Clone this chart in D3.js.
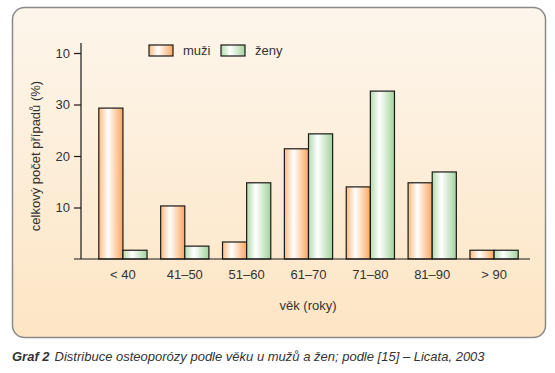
<html>
<head>
<style>
body { margin: 0; background: #ffffff; font-family: "Liberation Sans", Arial, sans-serif; }
svg { display: block; }
text { fill: #333333; }
</style>
</head>
<body>
<script src="https://cdnjs.cloudflare.com/ajax/libs/d3/7.8.5/d3.min.js"></script>
<script>
var ageGroups = ['< 40', '41–50', '51–60', '61–70', '71–80', '81–90', '> 90']
var muzi = [29.3, 10.3, 3.3, 21.4, 14.0, 14.8, 1.7]
var zeny = [1.7, 2.5, 14.8, 24.3, 32.6, 16.9, 1.7]
var yTicks = [10, 20, 30, 40]
var yTickLabels = ['10', '20', '30', '10']
var seriesNames = ['muži', 'ženy']

var width = 555, height = 373

var svg = d3.select("body").append("svg")
  .attr("width", width)
  .attr("height", height)

var defs = svg.append("defs")

var bg = defs.append("linearGradient").attr("id", "bg")
  .attr("x1", 0).attr("y1", 0).attr("x2", 0).attr("y2", 1)
bg.append("stop").attr("offset", "0%").attr("stop-color", "#fdf6ec")
bg.append("stop").attr("offset", "100%").attr("stop-color", "#fde5c4")

function barGradient(id, c1, c2) {
  var g = defs.append("linearGradient").attr("id", id)
    .attr("x1", 0).attr("y1", 0).attr("x2", 1).attr("y2", 0)
  g.append("stop").attr("offset", "0%").attr("stop-color", c1)
  g.append("stop").attr("offset", "38%").attr("stop-color", "#ffffff")
  g.append("stop").attr("offset", "100%").attr("stop-color", c2)
}
barGradient("gm", "#fbbb80", "#fba65e")
barGradient("gz", "#b3dbad", "#a2d29c")
var fills = ["url(#gm)", "url(#gz)"]

// panel
svg.append("rect")
  .attr("x", 12.5).attr("y", 7.5)
  .attr("width", 533).attr("height", 330)
  .attr("rx", 12)
  .attr("fill", "url(#bg)")
  .attr("stroke", "#8a8a8a")
  .attr("stroke-width", 1.5)

var x = d3.scaleBand().domain(ageGroups).range([92, 525]).paddingInner(0.22).paddingOuter(0.11)
var xs = d3.scaleBand().domain([0, 1]).range([0, x.bandwidth()])
var y = d3.scaleLinear().domain([0, 40]).range([259, 53])

// bars
var groups = svg.selectAll("g.grp")
  .data(ageGroups)
  .enter().append("g")
  .attr("class", "grp")
  .attr("transform", function(d) { return "translate(" + x(d) + ",0)" })

groups.selectAll("rect")
  .data(function(d, i) { return [muzi[i], zeny[i]] })
  .enter().append("rect")
  .attr("x", function(d, j) { return xs(j) })
  .attr("y", function(d) { return y(d) })
  .attr("width", xs.bandwidth())
  .attr("height", function(d) { return y(0) - y(d) })
  .attr("fill", function(d, j) { return fills[j] })
  .attr("stroke", "#1a1a1a")
  .attr("stroke-width", 1.2)

// y axis
var yAxis = d3.axisLeft(y).tickValues(yTicks)
  .tickSize(7).tickPadding(4)
  .tickFormat(function(d, i) { return yTickLabels[i] })
var ya = svg.append("g").attr("transform", "translate(81,0)").call(yAxis)
ya.select(".domain").attr("d", "M0,43V259").attr("stroke", "#1a1a1a").attr("stroke-width", 1.2)
ya.selectAll(".tick line").attr("stroke", "#1a1a1a").attr("stroke-width", 1.2)
ya.selectAll("text").attr("font-size", 13).attr("fill", "#444")
  .attr("font-family", "Liberation Sans, Arial, sans-serif")

// x axis baseline
svg.append("line")
  .attr("x1", 74).attr("x2", 530)
  .attr("y1", y(0)).attr("y2", y(0))
  .attr("stroke", "#1a1a1a").attr("stroke-width", 1.2)

svg.selectAll("text.xl")
  .data(ageGroups)
  .enter().append("text")
  .attr("class", "xl")
  .attr("x", function(d) { return x(d) + x.bandwidth() / 2 })
  .attr("y", 279)
  .attr("text-anchor", "middle")
  .attr("font-size", 13)
  .text(function(d) { return d })

svg.append("text")
  .attr("x", 308).attr("y", 310)
  .attr("text-anchor", "middle")
  .attr("font-size", 13)
  .text("věk (roky)")

svg.append("text")
  .attr("transform", "translate(40,156) rotate(-90)")
  .attr("text-anchor", "middle")
  .attr("font-size", 13)
  .text("celkový počet případů (%)")

// legend
var legend = svg.selectAll("g.leg")
  .data(seriesNames)
  .enter().append("g")
  .attr("class", "leg")
  .attr("transform", function(d, i) { return "translate(" + (149 + i * 72) + ",45)" })
legend.append("rect")
  .attr("width", 24).attr("height", 11)
  .attr("fill", function(d, i) { return fills[i] })
  .attr("stroke", "#1a1a1a").attr("stroke-width", 1.2)
legend.append("text")
  .attr("x", 34).attr("y", 10)
  .attr("font-size", 13)
  .text(function(d) { return d })

// caption
var cap = svg.append("text")
  .attr("x", 12).attr("y", 361)
  .attr("font-size", 13)
  .attr("font-style", "italic")
  .attr("fill", "#222")
cap.append("tspan").attr("font-weight", "bold").text("Graf 2")
cap.append("tspan").attr("dx", 5).text("Distribuce osteoporózy podle věku u mužů a žen; podle [15] – Licata, 2003")
</script>
</body>
</html>
